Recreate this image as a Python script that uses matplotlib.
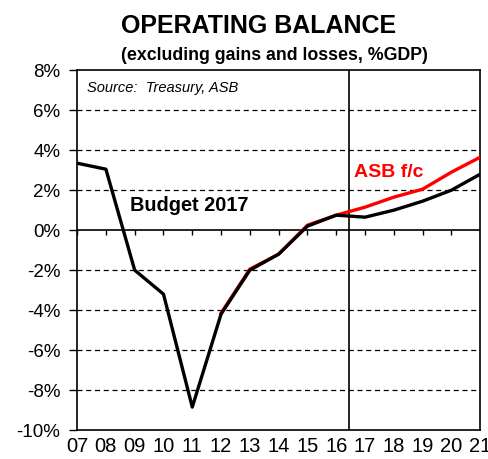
import matplotlib.pyplot as plt
import numpy as np

plt.rcParams['font.family'] = ['Liberation Sans', 'DejaVu Sans']

year_labels = ['07', '08', '09', '10', '11', '12', '13', '14', '15', '16',
               '17', '18', '19', '20', '21']
actual = [3.35, 3.05, -2.0, -3.2, -8.85, -4.2, -2.0, -1.2, 0.2, 0.75]
asb_fc = [-4.15, -1.95, -1.2, 0.25, 0.75, 1.15, 1.65, 2.05, 2.9, 3.65]
budget = [3.35, 3.05, -2.0, -3.2, -8.85, -4.2, -2.0, -1.2, 0.2, 0.75,
          0.65, 1.0, 1.45, 2.0, 2.8]
forecast_start = 9.45

x = np.arange(len(year_labels))

fig = plt.figure(figsize=(4.88, 4.59), dpi=100)
ax = fig.add_axes([0.158, 0.063, 0.826, 0.784])

ax.plot(x[:len(actual)], actual, color='blue', lw=1.2, zorder=3)
ax.plot(x[5:5 + len(asb_fc)], asb_fc, color='red', lw=2.4, zorder=4)
ax.plot(x, budget, color='black', lw=2.4, zorder=5)

ax.set_xlim(0, 14)
ax.set_ylim(-10, 8)
yt = np.arange(-10, 9, 2)
ax.set_yticks(yt)
ax.set_yticklabels([f'{v}%' for v in yt], fontsize=13.5)
ax.set_xticks(x)
ax.set_xticklabels(year_labels, fontsize=14.5)
ax.tick_params(axis='x', length=0, pad=5)
ax.tick_params(axis='y', length=6, width=1, direction='out', pad=6)

for v in yt:
    if v in (-10, 8):
        continue
    if v == 0:
        ax.axhline(0, color='black', lw=1.2, zorder=2)
    else:
        ax.axhline(v, color='black', lw=0.9, ls=(0, (4, 3)), zorder=1)
ax.vlines(x, -0.25, 0, color='black', lw=1, zorder=2)
ax.axvline(forecast_start, color='black', lw=1.2, zorder=2)

for s in ax.spines.values():
    s.set_linewidth(1.2)

ax.text(0.35, 7.1, 'Source:  Treasury, ASB', fontsize=10.5, style='italic',
        va='center')
ax.text(1.85, 1.25, 'Budget 2017', fontsize=14.3, fontweight='bold',
        va='center')
ax.text(9.6, 2.9, 'ASB f/c', fontsize=14, fontweight='bold', color='red',
        va='center')

fig.text(0.53, 0.943, 'OPERATING BALANCE', ha='center', va='center',
         fontsize=18, fontweight='bold')
fig.text(0.563, 0.878, '(excluding gains and losses, %GDP)', ha='center',
         va='center', fontsize=12.8, fontweight='bold')

fig.savefig('out.png', dpi=100)
